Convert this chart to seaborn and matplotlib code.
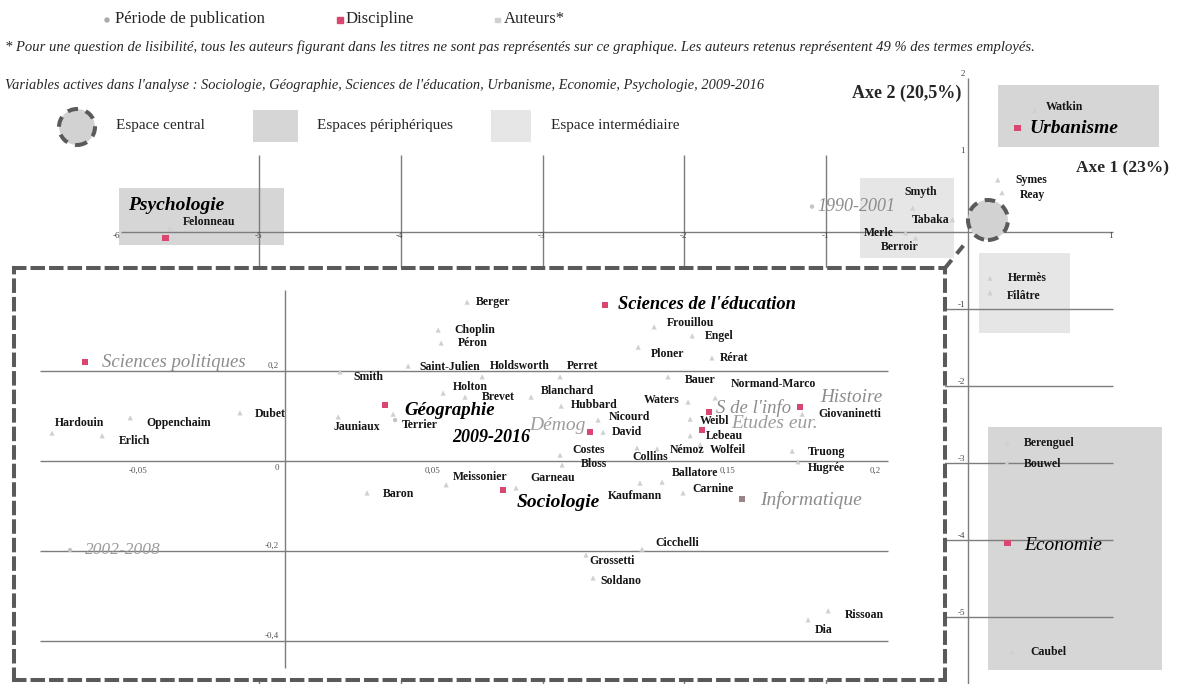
import numpy as np
import pandas as pd
import matplotlib
matplotlib.use("Agg")
import matplotlib.pyplot as plt
from matplotlib.patches import Rectangle, Ellipse
import seaborn as sns

# ---------------- data : main factorial map (axes 1 / 2)
main_disc = ["Psychologie", "Urbanisme", "Economie"]
main_disc_x = [-5.66, 0.35, 0.28]
main_disc_y = [-0.08, 1.35, -4.04]

main_period = ["1990-2001"]
main_period_x = [-1.10]
main_period_y = [0.33]

main_auth = ["Felonneau", "Watkin", "Symes", "Reay", "Smyth", "Tabaka", "Merle",
             "Berroir", "Hermès", "Filâtre", "Berenguel", "Bouwel", "Caubel"]
main_auth_x = [-5.63, 0.47, 0.21, 0.24, -0.39, -0.11, -0.44, -0.37, 0.155, 0.155, 0.275, 0.275, 0.31]
main_auth_y = [0.05, 1.58, 0.675, 0.51, 0.31, 0.16, -0.01, -0.08, -0.60, -0.79, -2.74, -3.0, -5.45]

# ---------------- data : zoom on the centre of the map
zoom_disc = ["Sciences politiques", "Géographie", "Sciences de l'éducation", "Démog",
             "Sociologie", "S de l'info", "Etudes eur.", "Histoire", "Informatique"]
zoom_disc_x = [-0.0678, 0.0339, 0.1085, 0.1034, 0.0739, 0.1437, 0.1414, 0.1746, 0.1549]
zoom_disc_y = [0.220, 0.124, 0.347, 0.064, -0.064, 0.109, 0.069, 0.120, -0.084]

zoom_period = ["2002-2008", "2009-2016"]
zoom_period_x = [-0.0729, 0.0373]
zoom_period_y = [-0.198, 0.091]

zoom_auth = ["Berger", "Choplin", "Péron", "Saint-Julien", "Holdsworth", "Perret", "Smith",
             "Holton", "Brevet", "Blanchard", "Hubbard", "Nicourd", "David", "Costes", "Bloss",
             "Ploner", "Frouillou", "Engel", "Rérat", "Bauer", "Normand-Marco", "Waters",
             "Weibl", "Lebeau", "Némoz", "Wolfeil", "Collins", "Truong", "Hugrée",
             "Giovaninetti", "Ballatore", "Carnine", "Kaufmann", "Garneau", "Meissonier",
             "Baron", "Jauniaux", "Terrier", "Dubet", "Oppenchaim", "Hardouin", "Erlich",
             "Cicchelli", "Grossetti", "Soldano", "Rissoan", "Dia"]
zoom_auth_x = [0.0617, 0.0519, 0.0529, 0.0417, 0.0668, 0.0932, 0.0186,
               0.0536, 0.0610, 0.0834, 0.0936, 0.1061, 0.1078, 0.0932, 0.0939,
               0.1197, 0.1251, 0.1380, 0.1447, 0.1298, 0.1458, 0.1366,
               0.1373, 0.1373, 0.1261, 0.1407, 0.1193, 0.1719, 0.1739,
               0.1753, 0.1278, 0.1349, 0.1203, 0.0783, 0.0546,
               0.0278, 0.0180, 0.0366, -0.0153, -0.0525, -0.0790, -0.0620,
               0.1210, 0.1020, 0.1044, 0.1841, 0.1773]
zoom_auth_y = [0.353, 0.291, 0.262, 0.211, 0.187, 0.187, 0.198,
               0.151, 0.142, 0.142, 0.122, 0.091, 0.064, 0.013, -0.009,
               0.253, 0.298, 0.278, 0.229, 0.187, 0.140, 0.131,
               0.093, 0.056, 0.027, 0.036, 0.029, 0.022, -0.002,
               0.104, -0.047, -0.071, -0.049, -0.060, -0.053,
               -0.071, 0.098, 0.104, 0.107, 0.096, 0.062, 0.056,
               -0.196, -0.209, -0.260, -0.333, -0.353]

# ---------------- label placement (pixels from the marker)
off_main = {"Felonneau": (13, 6), "Watkin": (11, 3), "Symes": (18, 0), "Reay": (18, -2),
            "Smyth": (-8, 16), "Tabaka": (-3, 0), "Merle": (-12, 0), "Berroir": (-35, -9),
            "Hermès": (18, 0), "Filâtre": (17, -3), "Berenguel": (17, 0), "Bouwel": (17, -1),
            "Caubel": (18, 0), "Psychologie": (-37, 33), "Urbanisme": (12, 0),
            "Economie": (17, -2), "1990-2001": (5, 0)}
off_zoom = {"Berger": (9, 0), "Choplin": (16, 0), "Péron": (17, 0), "Saint-Julien": (11, -1),
            "Holdsworth": (8, 11), "Perret": (7, 11), "Smith": (13, -5), "Holton": (10, 6),
            "Brevet": (17, 0), "Blanchard": (10, 6), "Hubbard": (10, 1), "Nicourd": (11, 3),
            "David": (9, 0), "Costes": (12, 5), "Bloss": (19, 1), "Ploner": (13, -7),
            "Frouillou": (13, 4), "Engel": (13, 0), "Rérat": (8, 0), "Bauer": (17, -3),
            "Normand-Marco": (16, 14), "Waters": (-8, 2), "Weibl": (10, -2), "Lebeau": (16, 0),
            "Némoz": (13, -1), "Wolfeil": (10, -5), "Collins": (-5, -9), "Truong": (16, -1),
            "Hugrée": (10, -6), "Giovaninetti": (16, 0), "Ballatore": (10, 9),
            "Carnine": (9, 4), "Kaufmann": (-32, -13), "Garneau": (14, 10),
            "Meissonier": (7, 8), "Baron": (16, -1), "Jauniaux": (-5, -10), "Terrier": (9, -11),
            "Dubet": (15, -1), "Oppenchaim": (16, -5), "Hardouin": (3, 10), "Erlich": (17, -5),
            "Cicchelli": (13, 6), "Grossetti": (3, -6), "Soldano": (7, -3), "Rissoan": (17, -4),
            "Dia": (7, -10),
            "Sciences politiques": (17, 0), "Géographie": (19, -5),
            "Sciences de l'éducation": (13, 0), "Démog": (-5, 7), "Sociologie": (14, -13),
            "S de l'info": (7, 4), "Etudes eur.": (29, 6), "Histoire": (20, 9),
            "Informatique": (18, -1), "2002-2008": (15, 0), "2009-2016": (57, -17)}
right_aligned = {"Tabaka", "Merle", "Waters", "Démog"}

GREY_TXT = "#8c8c8c"
big_style = {  # size, weight, style, colour
    "Psychologie": (14, "bold", "italic", "black"),
    "Urbanisme": (14, "bold", "italic", "black"),
    "Economie": (14, "normal", "italic", "black"),
    "1990-2001": (13, "normal", "italic", GREY_TXT),
    "Sciences politiques": (13.5, "normal", "italic", GREY_TXT),
    "Géographie": (13.5, "bold", "italic", "black"),
    "Sciences de l'éducation": (13.3, "bold", "italic", "black"),
    "Démog": (14, "normal", "italic", "#9c9c9c"),
    "Sociologie": (14, "bold", "italic", "black"),
    "S de l'info": (13.5, "normal", "italic", GREY_TXT),
    "Etudes eur.": (14, "normal", "italic", "#9c9c9c"),
    "Histoire": (13.8, "normal", "italic", GREY_TXT),
    "Informatique": (14, "normal", "italic", GREY_TXT),
    "2002-2008": (12.5, "normal", "italic", "#9c9c9c"),
    "2009-2016": (13, "bold", "italic", "black"),
}

PINK = "#d9466f"
DASH_C = "#5a5a5a"
DASH = (0, (2.6, 2.0))
LINE_C = "#7d7d7d"

sns.set_style("white")
plt.rcParams["font.family"] = ["Liberation Serif", "DejaVu Serif"]

W, H = 1177, 684
fig = plt.figure(figsize=(W / 100, H / 100), dpi=100)


def fx(px):
    return px / W


def fy(py):
    return 1 - py / H


def put_label(ax, name, x, y, offs):
    dx, dy = offs.get(name, (10, 0))
    ha = "right" if name in right_aligned else "left"
    if name in big_style:
        size, weight, style, col = big_style[name]
    else:
        size, weight, style, col = 8.5, "bold", "normal", "#161616"
    ax.annotate(name, (x, y), xytext=(dx, dy), textcoords="offset pixels",
                ha=ha, va="center", fontsize=size, fontweight=weight,
                fontstyle=style, color=col, zorder=6)


def draw_points(ax, names, xs, ys, kind, offs):
    df = pd.DataFrame({"name": names, "x": xs, "y": ys})
    if kind == "disc":
        cols = ["#9a8588" if n == "Informatique" else PINK for n in names]
        for c in set(cols):
            sub = df[[cc == c for cc in cols]]
            sns.scatterplot(data=sub, x="x", y="y", ax=ax, marker="s", s=22,
                            color=c, edgecolor="none", zorder=5)
    elif kind == "period":
        sns.scatterplot(data=df, x="x", y="y", ax=ax, marker="o", s=10,
                        color="#c4c4c4", edgecolor="none", zorder=5)
    else:
        sns.scatterplot(data=df, x="x", y="y", ax=ax, marker="^", s=14,
                        color="#d0d0d0", edgecolor="none", zorder=5)
    for n, x, y in zip(names, xs, ys):
        put_label(ax, n, x, y, offs)


# ---------------- main map
ax = fig.add_axes([0, 0, 1, 1])
ax.set_xlim(-6.826, 1.474)
ax.set_ylim(-5.87, 3.013)
ax.set_axis_off()

# peripheral / intermediate spaces
for (x0, x1, y0, y1) in [(-5.99, -4.82, -0.17, 0.57), (0.21, 1.35, 1.10, 1.91),
                         (0.14, 1.37, -5.69, -2.53)]:
    ax.add_patch(Rectangle((x0, y0), x1 - x0, y1 - y0, color="#d6d6d6", lw=0, zorder=1))
for (x0, x1, y0, y1) in [(-0.76, -0.10, -0.34, 0.70), (0.08, 0.72, -1.31, -0.27)]:
    ax.add_patch(Rectangle((x0, y0), x1 - x0, y1 - y0, color="#e6e6e6", lw=0, zorder=1))

# axes and grid
ax.hlines(0, -5.97, 1.02, color=LINE_C, lw=1, zorder=2)
ax.vlines(0, -5.9, 2.0, color=LINE_C, lw=1, zorder=2)
for gx in [-5, -4, -3, -2, -1]:
    ax.vlines(gx, -5.9, 1.0, color=LINE_C, lw=1, zorder=2)
for gy in [-1, -2, -3, -4, -5]:
    ax.hlines(gy, -5.97, 1.02, color=LINE_C, lw=1, zorder=2)
for t in [-6, -5, -4, -3, -2, -1, 1]:
    ax.text(t + 0.02, -0.05, str(t), ha="right", va="center", fontsize=6.5, color="#444")
for t in [2, 1, -1, -2, -3, -4, -5]:
    ax.text(-0.02, t + 0.05, str(t), ha="right", va="center", fontsize=6.5, color="#444")

ax.text(-0.05, 1.80, "Axe 2 (20,5%)", ha="right", va="center", fontsize=13, fontweight="bold")
ax.text(1.42, 0.83, "Axe 1 (23%)", ha="right", va="center", fontsize=12.5, fontweight="bold")

draw_points(ax, main_auth, main_auth_x, main_auth_y, "auth", off_main)
draw_points(ax, main_period, main_period_x, main_period_y, "period", off_main)
draw_points(ax, main_disc, main_disc_x, main_disc_y, "disc", off_main)
ax.set(xlabel="", ylabel="")
ax.set_xlim(-6.826, 1.474)
ax.set_ylim(-5.87, 3.013)

# central space and link to the zoom
ax.add_patch(Ellipse((0.141, 0.156), 0.282, 0.519, facecolor="#d2d2d2", edgecolor=DASH_C,
                     lw=2.9, linestyle=DASH, zorder=4))
ax.plot([-0.162, 0.0], [-0.468, -0.104], color=DASH_C, lw=2.9, linestyle=DASH, zorder=4)

# ---------------- zoom on the centre
axz = fig.add_axes([fx(14), fy(680), (945 - 14) / W, (680 - 268) / H])
axz.set_facecolor("white")
for s in axz.spines.values():
    s.set_visible(True)
    s.set_linestyle(DASH)
    s.set_linewidth(2.9)
    s.set_color(DASH_C)

axz.hlines([0.2, 0, -0.2, -0.4], -0.083, 0.2044, color=LINE_C, lw=1, zorder=2)
axz.vlines(0, -0.46, 0.38, color=LINE_C, lw=1, zorder=2)
for t, lab in [(-0.05, "-0,05"), (0.05, "0,05"), (0.15, "0,15"), (0.2, "0,2")]:
    axz.text(t, -0.022, lab, ha="center", va="center", fontsize=6.5, color="#555")
for t, lab in [(0.2, "0,2"), (0, "0"), (-0.2, "-0,2"), (-0.4, "-0,4")]:
    axz.text(-0.002, t + (0.012 if t != 0 else -0.015), lab, ha="right", va="center",
             fontsize=6.5, color="#555")

draw_points(axz, zoom_auth, zoom_auth_x, zoom_auth_y, "auth", off_zoom)
draw_points(axz, zoom_period, zoom_period_x, zoom_period_y, "period", off_zoom)
draw_points(axz, zoom_disc, zoom_disc_x, zoom_disc_y, "disc", off_zoom)
axz.set(xlabel="", ylabel="", xticks=[], yticks=[])
axz.set_xlim(-0.0919, 0.2237)
axz.set_ylim(-0.4867, 0.4289)

# ---------------- header : legend and notes
fig.add_artist(Ellipse((fx(107), fy(20)), 4 / W, 4 / H, transform=fig.transFigure,
                       color="#aaaaaa"))
fig.text(fx(115), fy(19), "Période de publication", ha="left", va="center", fontsize=12)
fig.add_artist(Rectangle((fx(337), fy(23)), 6 / W, 6 / H, transform=fig.transFigure,
                         color=PINK))
fig.text(fx(346), fy(19), "Discipline", ha="left", va="center", fontsize=12)
fig.add_artist(Rectangle((fx(495), fy(22)), 5 / W, 4 / H, transform=fig.transFigure,
                         color="#d0d0d0"))
fig.text(fx(504), fy(19), "Auteurs*", ha="left", va="center", fontsize=12)

fig.text(fx(5), fy(47), "* Pour une question de lisibilité, tous les auteurs figurant dans les "
         "titres ne sont pas représentés sur ce graphique. Les auteurs retenus représentent "
         "49 % des termes employés.", ha="left", va="center", fontsize=10.5, fontstyle="italic")
fig.text(fx(5), fy(85), "Variables actives dans l'analyse : Sociologie, Géographie, Sciences "
         "de l'éducation, Urbanisme, Economie, Psychologie, 2009-2016",
         ha="left", va="center", fontsize=10.4, fontstyle="italic")

fig.add_artist(Ellipse((fx(77), fy(127)), 36 / W, 36 / H, transform=fig.transFigure,
                       facecolor="#d2d2d2", edgecolor=DASH_C, lw=2.9, linestyle=DASH))
fig.text(fx(116), fy(125), "Espace central", ha="left", va="center", fontsize=11)
fig.add_artist(Rectangle((fx(253), fy(142)), 45 / W, 32 / H, transform=fig.transFigure,
                         color="#d6d6d6", lw=0))
fig.text(fx(317), fy(125), "Espaces périphériques", ha="left", va="center", fontsize=11)
fig.add_artist(Rectangle((fx(491), fy(142)), 40 / W, 32 / H, transform=fig.transFigure,
                         color="#e6e6e6", lw=0))
fig.text(fx(551), fy(125), "Espace intermédiaire", ha="left", va="center", fontsize=11)

fig.savefig("out.png", dpi=100)
